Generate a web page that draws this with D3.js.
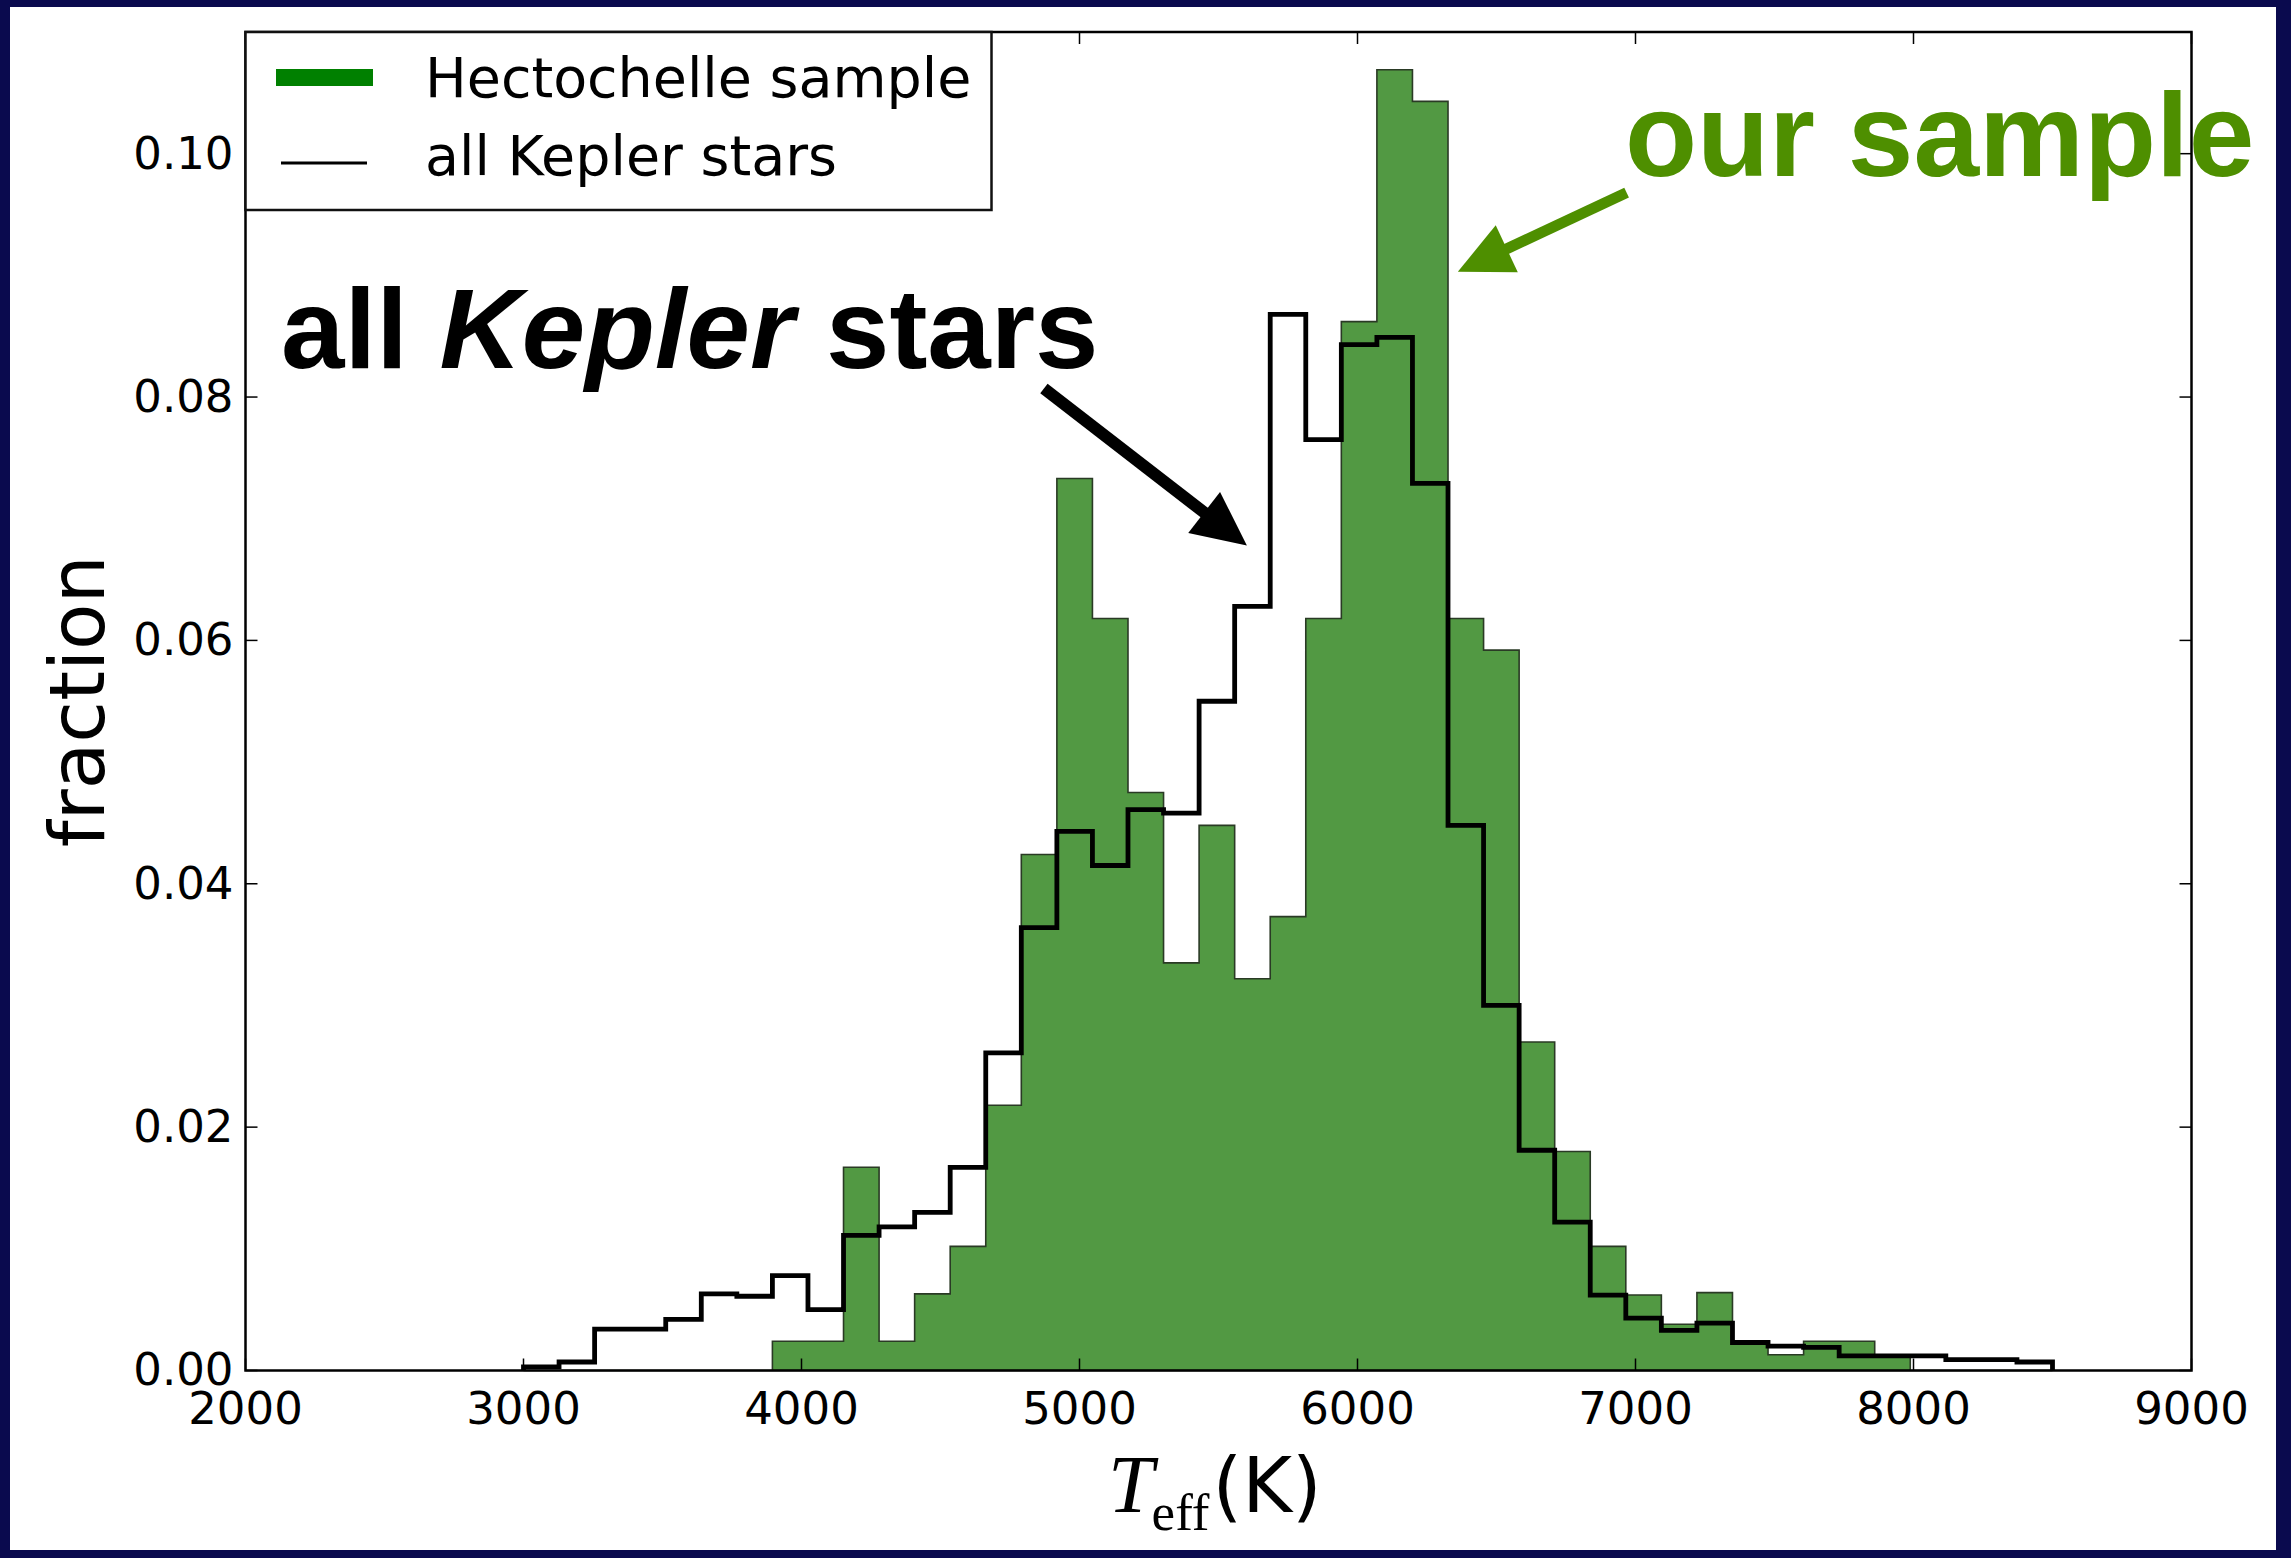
<!DOCTYPE html>
<html>
<head>
<meta charset="utf-8">
<script src="https://cdn.jsdelivr.net/npm/d3@7"></script>
<style>
  html, body { margin: 0; padding: 0; background: #0b0b4d; }
  svg { display: block; }
</style>
</head>
<body>
<svg id="chart"></svg>
<script>
// histogram bins (Teff, K)
const tLow = 3000, tHigh = 8500, binCount = 43
// fraction per bin, all Kepler stars (black step line)
const keplerFrac = [0.0003, 0.0007, 0.0034, 0.0034, 0.0042, 0.0063, 0.0061, 0.0078, 0.0050, 0.0111,
  0.0118, 0.0130, 0.0167, 0.0261, 0.0364, 0.0443, 0.0415, 0.0461, 0.0458, 0.0550,
  0.0628, 0.0868, 0.0765, 0.0843, 0.0849, 0.0729, 0.0448, 0.0300, 0.0181, 0.0122,
  0.0062, 0.0043, 0.0033, 0.0039, 0.0023, 0.0020, 0.0019, 0.0012, 0.0012, 0.0012,
  0.0009, 0.0009, 0.0007]
// fraction per bin, Hectochelle sample (green filled)
const hectoFrac = [0, 0, 0, 0, 0, 0, 0, 0.0024, 0.0024, 0.0167,
  0.0024, 0.0063, 0.0102, 0.0218, 0.0424, 0.0733, 0.0618, 0.0475, 0.0335, 0.0448,
  0.0322, 0.0373, 0.0618, 0.0862, 0.1069, 0.1043, 0.0618, 0.0592, 0.0270, 0.0180,
  0.0102, 0.0062, 0.0038, 0.0064, 0.0024, 0.0013, 0.0024, 0.0024, 0.0012, 0,
  0, 0, 0]
const xTicks = [2000, 3000, 4000, 5000, 6000, 7000, 8000, 9000]
const yTicks = [0.00, 0.02, 0.04, 0.06, 0.08, 0.10]
const legendLabels = ["Hectochelle sample", "all Kepler stars"]

const W = 2291, H = 1558
const pLeft = 245.5, pRight = 2191.5, pTop = 32, pBottom = 1370.5
const green = "#529943", textGreen = "#4e8f00"

const svg = d3.select("#chart").attr("width", W).attr("height", H)

svg.append("rect").attr("width", W).attr("height", H).attr("fill", "#0a0a4e")
svg.append("rect").attr("x", 10).attr("y", 7).attr("width", 2266).attr("height", 1543).attr("fill", "white")

const x = d3.scaleLinear().domain([2000, 9000]).range([pLeft, pRight])
const y = d3.scaleLinear().domain([0, 0.11]).range([pBottom, pTop])

const binW = (tHigh - tLow) / binCount
const edges = d3.range(binCount + 1).map(i => tLow + i * binW)

const g = svg.append("g")

// green stepfilled histogram
const hectoPts = hectoFrac.map((v, i) => [edges[i], v]).concat([[edges[binCount], hectoFrac[binCount - 1]]])
g.append("path")
  .datum(hectoPts)
  .attr("d", d3.area().curve(d3.curveStepAfter).x(d => x(d[0])).y0(y(0)).y1(d => y(d[1])))
  .attr("fill", green)
  .attr("stroke", "#2a3a25")
  .attr("stroke-width", 1.6)

// black step histogram
const kepPts = [[tLow, 0]].concat(keplerFrac.map((v, i) => [edges[i], v]))
  .concat([[tHigh, keplerFrac[binCount - 1]], [tHigh, 0]])
g.append("path")
  .datum(kepPts)
  .attr("d", d3.line().curve(d3.curveStepAfter).x(d => x(d[0])).y(d => y(d[1])))
  .attr("fill", "none")
  .attr("stroke", "black")
  .attr("stroke-width", 4.8)
  .attr("stroke-linejoin", "miter")

// ticks, inward on all four sides
const tickLen = 12
xTicks.forEach(t => {
  g.append("line").attr("x1", x(t)).attr("x2", x(t)).attr("y1", pBottom).attr("y2", pBottom - tickLen)
    .attr("stroke", "black").attr("stroke-width", 1.5)
  g.append("line").attr("x1", x(t)).attr("x2", x(t)).attr("y1", pTop).attr("y2", pTop + tickLen)
    .attr("stroke", "black").attr("stroke-width", 1.5)
  svg.append("text").attr("x", x(t)).attr("y", pBottom + 53)
    .attr("text-anchor", "middle")
    .style("font-family", "DejaVu Sans").style("font-size", "45px")
    .text(t)
})
yTicks.forEach(t => {
  g.append("line").attr("x1", pLeft).attr("x2", pLeft + tickLen).attr("y1", y(t)).attr("y2", y(t))
    .attr("stroke", "black").attr("stroke-width", 1.5)
  g.append("line").attr("x1", pRight).attr("x2", pRight - tickLen).attr("y1", y(t)).attr("y2", y(t))
    .attr("stroke", "black").attr("stroke-width", 1.5)
  svg.append("text").attr("x", pLeft - 12).attr("y", y(t)).attr("dy", "0.33em")
    .attr("text-anchor", "end")
    .style("font-family", "DejaVu Sans").style("font-size", "45px")
    .text(d3.format(".2f")(t))
})

// frame
svg.append("rect").attr("x", pLeft).attr("y", pTop).attr("width", pRight - pLeft).attr("height", pBottom - pTop)
  .attr("fill", "none").attr("stroke", "black").attr("stroke-width", 2.5)

// legend
const leg = svg.append("g")
leg.append("rect").attr("x", pLeft).attr("y", pTop).attr("width", 746).attr("height", 178)
  .attr("fill", "white").attr("stroke", "#111").attr("stroke-width", 2.5)
leg.append("rect").attr("x", 276).attr("y", 69).attr("width", 97).attr("height", 17).attr("fill", "#008000")
leg.append("line").attr("x1", 281).attr("x2", 367).attr("y1", 163).attr("y2", 163)
  .attr("stroke", "black").attr("stroke-width", 3)
legendLabels.forEach((s, i) => {
  leg.append("text").attr("x", 425).attr("y", 97 + i * 78)
    .style("font-family", "DejaVu Sans").style("font-size", "55.5px")
    .text(s)
})

// axis labels
svg.append("text")
  .attr("transform", "translate(104," + ((pTop + pBottom) / 2) + ") rotate(-90)")
  .attr("text-anchor", "middle")
  .style("font-family", "DejaVu Sans").style("font-size", "76px")
  .text("fraction")

const xl = svg.append("text").attr("x", 1108).attr("y", 1512)
xl.append("tspan").style("font-family", "Liberation Serif").style("font-style", "italic")
  .style("font-size", "82px").text("T")
xl.append("tspan").attr("dx", -2).attr("dy", 18).style("font-family", "Liberation Serif")
  .style("font-size", "53px").text("eff")
xl.append("tspan").attr("dx", 3).attr("dy", -18).style("font-family", "DejaVu Sans")
  .style("font-size", "76px").text("(K)")

// annotations, placed in data coordinates
function arrow(from, to, color, width) {
  const x0 = x(from[0]), y0 = y(from[1]), x1 = x(to[0]), y1 = y(to[1])
  const len = Math.hypot(x1 - x0, y1 - y0)
  const ux = (x1 - x0) / len, uy = (y1 - y0) / len
  const headL = 54, headW = 26
  const bx = x1 - ux * headL, by = y1 - uy * headL
  svg.append("line").attr("x1", x0).attr("y1", y0).attr("x2", bx + ux * 8).attr("y2", by + uy * 8)
    .attr("stroke", color).attr("stroke-width", width)
  svg.append("path")
    .attr("d", "M" + x1 + "," + y1 + "L" + (bx - uy * headW) + "," + (by + ux * headW) +
      "L" + (bx + uy * headW) + "," + (by - ux * headW) + "Z")
    .attr("fill", color)
}

const keplerNote = svg.append("text").attr("x", x(2128)).attr("y", y(0.0824))
  .style("font-family", "Liberation Sans, Arial, sans-serif").style("font-weight", "bold")
  .style("font-size", "114px").attr("fill", "black")
keplerNote.append("tspan").text("all ")
keplerNote.append("tspan").style("font-style", "italic").text("Kepler")
keplerNote.append("tspan").text(" stars")
arrow([4872, 0.0807], [5602, 0.0678], "black", 12)

svg.append("text").attr("x", x(6962)).attr("y", y(0.0982))
  .style("font-family", "Liberation Sans, Arial, sans-serif").style("font-weight", "bold")
  .style("font-size", "118px").attr("fill", textGreen)
  .text("our sample")
arrow([6968, 0.0968], [6361, 0.0903], textGreen, 11)
</script>
</body>
</html>
